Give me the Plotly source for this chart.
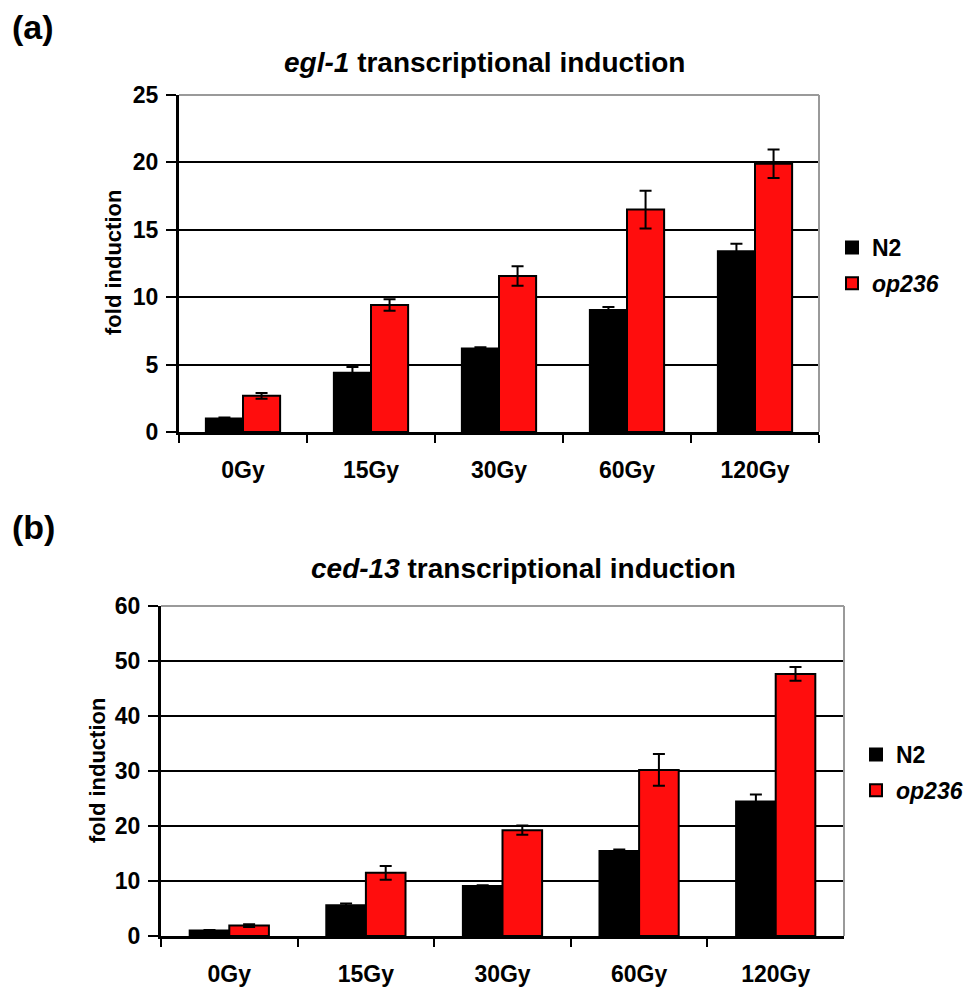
import plotly.graph_objects as go

categories = ["0Gy", "15Gy", "30Gy", "60Gy", "120Gy"]

# panel (a): egl-1
egl1_n2 = [1.0, 4.4, 6.2, 9.05, 13.4]
egl1_n2_err = [0.08, 0.42, 0.08, 0.22, 0.57]
egl1_op236 = [2.68, 9.42, 11.57, 16.5, 19.9]
egl1_op236_err = [0.22, 0.43, 0.72, 1.4, 1.05]

# panel (b): ced-13
ced13_n2 = [1.0, 5.6, 9.1, 15.45, 24.45]
ced13_n2_err = [0.1, 0.3, 0.15, 0.3, 1.3]
ced13_op236 = [1.9, 11.5, 19.25, 30.2, 47.65]
ced13_op236_err = [0.25, 1.25, 0.85, 2.9, 1.25]

FONT = "Liberation Sans, Arial, sans-serif"
RED = "#FF0D0D"
W, H = 971, 991


def px_x(v):
    return v / W


def px_y(v):
    return 1 - v / H


def bar(x, y, err, name, color, xa, ya, leg, grp):
    return go.Bar(
        x=x, y=y, name=name,
        marker=dict(color=color, line=dict(color="#000000", width=2)),
        error_y=dict(type="data", array=err, visible=True, color="#000000",
                     thickness=2, width=6),
        xaxis=xa, yaxis=ya, legend=leg, legendgroup=grp,
    )


fig = go.Figure()
fig.add_trace(bar(categories, egl1_n2, egl1_n2_err, "<b>N2</b>", "#000000", "x", "y", "legend", "a1"))
fig.add_trace(bar(categories, egl1_op236, egl1_op236_err, "<b><i>op236</i></b>", RED, "x", "y", "legend", "a2"))
fig.add_trace(bar(categories, ced13_n2, ced13_n2_err, "<b>N2</b>", "#000000", "x2", "y2", "legend2", "b1"))
fig.add_trace(bar(categories, ced13_op236, ced13_op236_err, "<b><i>op236</i></b>", RED, "x2", "y2", "legend2", "b2"))

tickfont = dict(family=FONT, size=23, color="#000000", weight="bold")

xcommon = dict(
    type="category", showline=True, linecolor="#000000", linewidth=3,
    ticks="outside", tickson="boundaries", ticklen=8, tickwidth=2,
    tickcolor="#000000", tickfont=tickfont, showgrid=False,
    ticklabelstandoff=15, automargin=False, fixedrange=True,
)
ycommon = dict(
    showline=True, linecolor="#000000", linewidth=3, ticks="outside",
    ticklen=10, tickwidth=2, tickcolor="#000000", tickfont=tickfont,
    showgrid=True, gridcolor="#000000", gridwidth=2, zeroline=False,
    ticklabelstandoff=3, tick0=0, automargin=False, fixedrange=True,
)

legfont = dict(family=FONT, size=23, color="#000000")

fig.update_layout(
    width=W, height=H,
    margin=dict(l=0, r=0, t=0, b=0, autoexpand=False),
    paper_bgcolor="#FFFFFF", plot_bgcolor="#FFFFFF",
    barmode="group", bargap=0.42, bargroupgap=0,
    font=dict(family=FONT, color="#000000"),
    xaxis=dict(domain=[px_x(179), px_x(819)], anchor="y", **xcommon),
    yaxis=dict(domain=[px_y(432), px_y(95)], anchor="x", range=[0, 25], dtick=5, **ycommon),
    xaxis2=dict(domain=[px_x(161), px_x(844)], anchor="y2", **xcommon),
    yaxis2=dict(domain=[px_y(936), px_y(606)], anchor="x2", range=[0, 60], dtick=10, **ycommon),
    legend=dict(x=px_x(832), y=px_y(226), xanchor="left", yanchor="top", font=legfont,
                bgcolor="rgba(0,0,0,0)", tracegroupgap=3, itemwidth=30),
    legend2=dict(x=px_x(856), y=px_y(733), xanchor="left", yanchor="top", font=legfont,
                 bgcolor="rgba(0,0,0,0)", tracegroupgap=3, itemwidth=30),
    showlegend=True,
)

# gray top/right frame of each plot area
for xd, yd in (("x domain", "y domain"), ("x2 domain", "y2 domain")):
    fig.add_shape(type="line", xref=xd, yref=yd, x0=0, x1=1, y0=1, y1=1,
                  line=dict(color="#9A9A9A", width=2), layer="above")
    fig.add_shape(type="line", xref=xd, yref=yd, x0=1, x1=1, y0=0, y1=1,
                  line=dict(color="#9A9A9A", width=2), layer="above")

ann = [
    dict(text="<b>(a)</b>", x=px_x(10), y=px_y(27), xanchor="left", yanchor="middle", size=34),
    dict(text="<b>(b)</b>", x=px_x(10), y=px_y(527), xanchor="left", yanchor="middle", size=34),
    dict(text="<b><i>egl-1</i> transcriptional induction</b>", x=px_x(484), y=px_y(63),
         xanchor="center", yanchor="middle", size=28),
    dict(text="<b><i>ced-13</i> transcriptional induction</b>", x=px_x(523), y=px_y(568),
         xanchor="center", yanchor="middle", size=28),
]
for a in ann:
    fig.add_annotation(text=a["text"], x=a["x"], y=a["y"], xref="paper", yref="paper",
                       xanchor=a["xanchor"], yanchor=a["yanchor"], showarrow=False,
                       font=dict(family=FONT, size=a["size"], color="#000000"))

for xc, yc in ((113, 263), (97, 771)):
    fig.add_annotation(text="<b>fold induction</b>", x=px_x(xc), y=px_y(yc),
                       xref="paper", yref="paper", xanchor="center", yanchor="middle",
                       textangle=-90, showarrow=False,
                       font=dict(family=FONT, size=22, color="#000000"))

fig.write_html("out.html", config={"displayModeBar": False},
               post_script="document.body.style.margin='0px';")
